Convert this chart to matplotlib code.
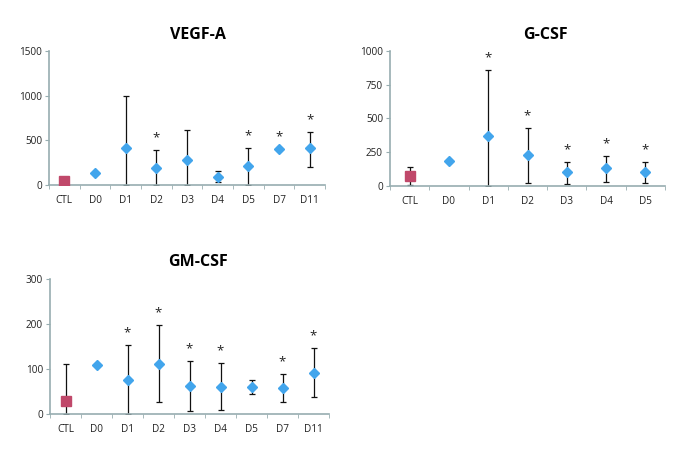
import matplotlib
matplotlib.use('Agg')
import matplotlib.pyplot as plt
import numpy as np

plt.rcParams['font.family'] = ['Open Sans', 'DejaVu Sans']

# VEGF-A
vegf_days = ['CTL', 'D0', 'D1', 'D2', 'D3', 'D4', 'D5', 'D7', 'D11']
vegf_mean = [45, 138, 415, 193, 279, 93, 212, 402, 409]
vegf_low = [20, 138, 0, 0, 0, 37, 0, 402, 207]
vegf_high = [75, 138, 1000, 397, 620, 156, 416, 402, 592]
vegf_star = ['D2', 'D5', 'D7', 'D11']

# G-CSF
gcsf_days = ['CTL', 'D0', 'D1', 'D2', 'D3', 'D4', 'D5']
gcsf_mean = [74, 185, 368, 232, 101, 131, 106]
gcsf_low = [5, 185, 2, 22, 15, 30, 22]
gcsf_high = [138, 185, 862, 432, 180, 222, 180]
gcsf_star = ['D1', 'D2', 'D3', 'D4', 'D5']

# GM-CSF
gm_days = ['CTL', 'D0', 'D1', 'D2', 'D3', 'D4', 'D5', 'D7', 'D11']
gm_mean = [29, 109, 76, 112, 62, 61, 61, 58, 92]
gm_low = [0, 109, 0, 27, 7, 9, 45, 27, 37]
gm_high = [112, 109, 153, 197, 118, 113, 75, 90, 147]
gm_star = ['D1', 'D2', 'D3', 'D4', 'D7', 'D11']

axis_col = '#97ADB0'
blue = '#42A5EC'
red = '#C0486A'

fig = plt.figure(figsize=(6.85, 4.53), dpi=100)


def panel(rect, title, tpos, days, mean, low, high, stars, ymax, ystep):
    ax = fig.add_axes(rect)
    n = len(days)
    x = np.arange(n)
    mean = np.array(mean, float)
    yerr = [mean - np.array(low), np.array(high) - mean]
    ax.errorbar(x, mean, yerr=yerr, fmt='none', ecolor='#111111',
                elinewidth=0.9, capsize=2.5, capthick=0.9, zorder=2)
    ax.plot(x[1:], mean[1:], linestyle='none', marker='D', ms=5.5,
            color=blue, mec=blue, zorder=3)
    ax.plot(x[:1], mean[:1], linestyle='none', marker='s', ms=6.5,
            color=red, mec=red, zorder=3)
    for d in stars:
        i = days.index(d)
        ax.annotate('*', (i, high[i]), xytext=(0, 4), textcoords='offset points',
                    ha='center', va='bottom', fontsize=9.5, color='#222222')
    ax.set_xlim(-0.5, n - 0.5)
    ax.set_ylim(0, ymax)
    ax.set_yticks(np.arange(0, ymax + 1, ystep))
    ax.set_xticks(x)
    ax.set_xticklabels(days)
    ax.set_xticks(np.arange(-0.5, n, 1.0), minor=True)
    ax.tick_params(axis='x', which='major', length=0, pad=7, labelsize=7.2,
                   labelcolor='#222222')
    ax.tick_params(axis='x', which='minor', length=3, color=axis_col, direction='out')
    ax.tick_params(axis='y', length=3, color=axis_col, direction='out',
                   labelsize=7.2, labelcolor='#222222', pad=2)
    for s in ['top', 'right']:
        ax.spines[s].set_visible(False)
    for s in ['left', 'bottom']:
        ax.spines[s].set_color(axis_col)
        ax.spines[s].set_linewidth(1.2)
    fig.text(tpos[0] / 685, 1 - tpos[1] / 453, title, ha='center', va='center',
             fontsize=11.5, fontweight='bold')
    return ax


panel([49 / 685, 268 / 453, 276 / 685, 134 / 453], 'VEGF-A', (198, 35),
      vegf_days, vegf_mean, vegf_low, vegf_high, vegf_star, 1500, 500)
panel([390 / 685, 267 / 453, 275 / 685, 135 / 453], 'G-CSF', (545, 35),
      gcsf_days, gcsf_mean, gcsf_low, gcsf_high, gcsf_star, 1000, 250)
panel([50 / 685, 39 / 453, 279 / 685, 135 / 453], 'GM-CSF', (198, 262),
      gm_days, gm_mean, gm_low, gm_high, gm_star, 300, 100)

fig.savefig('out.png', dpi=100)
